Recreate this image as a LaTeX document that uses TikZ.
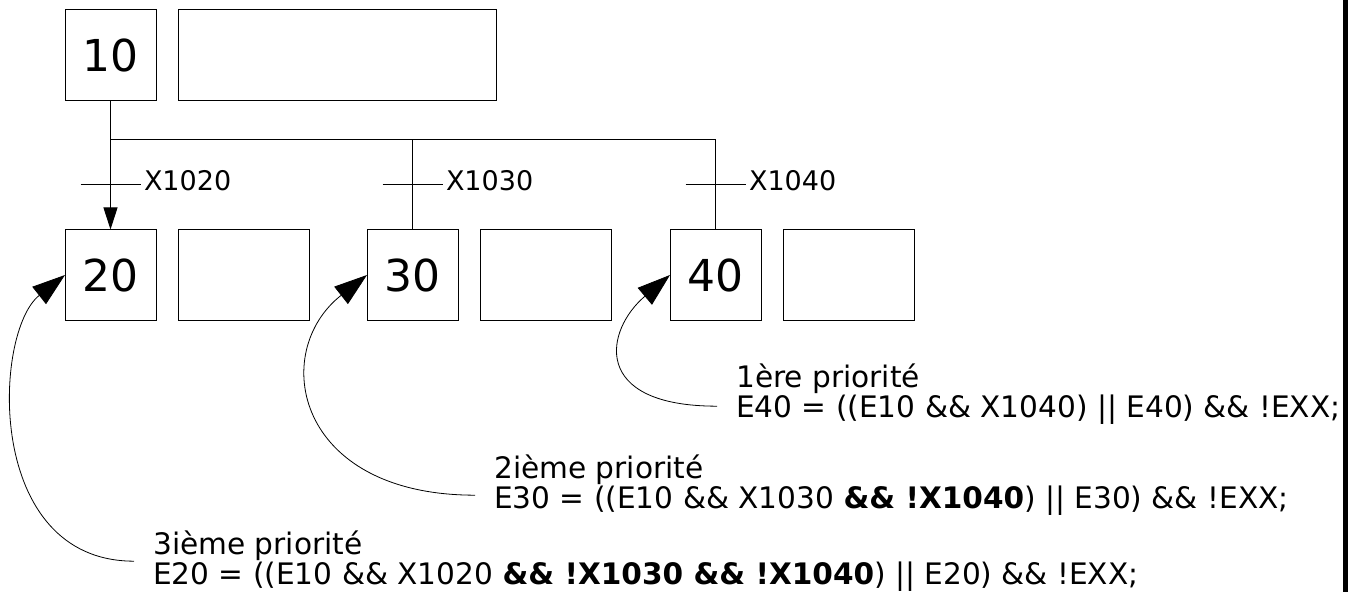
\documentclass[tikz,border=0pt]{standalone}
\usepackage{fontspec}
\setmainfont{DejaVu Sans}
\usepackage{tikz}
\usetikzlibrary{positioning, calc, arrows.meta}

\begin{document}
\begin{tikzpicture}[
    x=1pt, y=1pt,
    node distance=129pt and 22pt,
    etape/.style={rectangle, draw, line width=1pt, outer sep=0pt, minimum width=91pt, minimum height=91pt, inner sep=0pt, font=\fontsize{44}{44}\selectfont},
    action/.style={rectangle, draw, line width=1pt, outer sep=0pt, minimum width=131pt, minimum height=91pt, inner sep=0pt},
    lien/.style={line width=1pt},
    fleche/.style={line width=1pt, -{Triangle[length=22pt, width=14pt]}},
    recept/.style={anchor=west, inner sep=3pt, yshift=4pt, font=\fontsize{27}{27}\selectfont},
    prio/.style={line width=0.8pt, -{Triangle[length=33pt, width=22pt]}},
    eq/.style={anchor=base west, inner sep=0pt, font=\fontsize{29.6}{30}\selectfont}
]
    \useasboundingbox (0,0) rectangle (1353,592);

    \node[etape] (e10) at (110.5,537) {10};
    \node[action, minimum width=318pt, right=of e10] (a10) {};

    \node[etape, below=of e10] (e20) {20};
    \node[action, right=of e20] (a20) {};
    \node[etape, right=58pt of a20] (e30) {30};
    \node[action, right=of e30] (a30) {};
    \node[etape, right=59pt of a30] (e40) {40};
    \node[action, right=of e40] (a40) {};

    \coordinate (div) at ($(e10.south)!0.3!(e20.north)$);
    \draw[fleche] (e10) -- (e20);
    \draw[lien] (div) -| (e40);
    \draw[lien] (div -| e30) -- (e30);

    \coordinate (t20) at ($(div)!0.5!(e20.north)$);
    \coordinate (t30) at ($(div -| e30)!0.5!(e30.north)$);
    \coordinate (t40) at ($(div -| e40)!0.5!(e40.north)$);
    \draw[lien] ([xshift=-30pt]t20) -- ([xshift=30pt]t20) node[recept] (r20) {X1020};
    \draw[lien] ([xshift=-30pt]t30) -- ([xshift=30pt]t30) node[recept] (r30) {X1030};
    \draw[lien] ([xshift=-30pt]t40) -- ([xshift=30pt]t40) node[recept] (r40) {X1040};

    \node[eq] (eq40) at (736,174) {E40 = ((E10 \&\& X1040) || E40) \&\& !EXX;};
    \node[eq] (p40) at ([yshift=30pt]eq40.base west) {1ère priorité};
    \node[eq] (eq30) at (494,83) {E30 = ((E10 \&\& X1030 \textbf{\&\& !X1040}) || E30) \&\& !EXX;};
    \node[eq] (p30) at ([yshift=30pt]eq30.base west) {2ième priorité};
    \node[eq] (eq20) at (153,7) {E20 = ((E10 \&\& X1020 \textbf{\&\& !X1030 \&\& !X1040}) || E20) \&\& !EXX;};
    \node[eq] (p20) at ([yshift=30pt]eq20.base west) {3ième priorité};

    \draw[prio] ([xshift=-19pt, yshift=4pt]eq40.west) .. controls +(-127,0) and +(-65,-55) .. (e40.west);
    \draw[prio] ([xshift=-19pt, yshift=6pt]eq30.west) .. controls +(-180,0) and +(-98,-77) .. (e30.west);
    \draw[prio] ([xshift=-19pt, yshift=16pt]eq20.west) .. controls +(-150,0) and +(-72,-57) .. (e20.west);

    \fill (1343,0) rectangle (1347.5,592);
\end{tikzpicture}
\end{document}
